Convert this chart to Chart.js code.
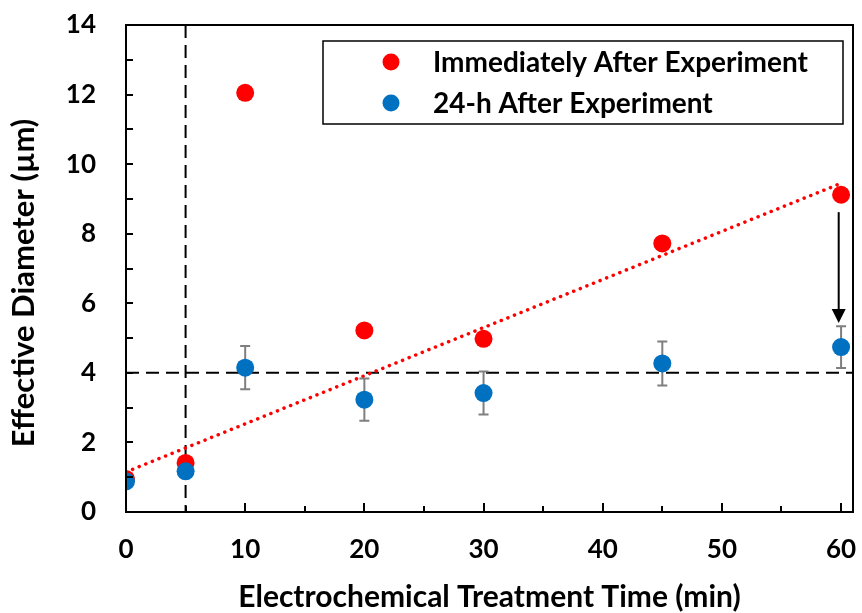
<!DOCTYPE html>
<html>
<head>
<meta charset="utf-8">
<script src="https://cdn.jsdelivr.net/npm/chart.js@4.4.1/dist/chart.umd.min.js"></script>
<style>
  html, body { margin: 0; padding: 0; background: #fff; }
  #wrap { width: 862px; height: 613px; }
</style>
</head>
<body>
<div id="wrap"><canvas id="chart" width="862" height="613"></canvas></div>
<script>
// treatment time (min)
const timeMin = [0, 5, 10, 20, 30, 45, 60];
// effective diameter right after the experiment
const immediateDia = [0.95, 1.41, 12.05, 5.22, 4.98, 7.72, 9.12];
// effective diameter 24 h later, with error bars
const after24hDia = [0.88, 1.17, 4.15, 3.23, 3.42, 4.27, 4.74];
const after24hErr = [0, 0, 0.62, 0.61, 0.62, 0.63, 0.6];
// dotted linear trend of the immediate series
const trendX = [0, 60];
const trendY = [1.15, 9.45];
// dashed reference lines
const refLineY = 4;
const refLineX = 5;
// arrow from the 60 min red point down to the blue one
const arrowX = 59.8;
const arrowY = [8.62, 5.43];
// tick labels
const xTickValues = [0, 10, 20, 30, 40, 50, 60];
const yTickValues = [0, 2, 4, 6, 8, 10, 12, 14];

const seriesLabels = ['Immediately After Experiment', '24-h After Experiment'];
const yTitle = 'Effective Diameter (µm)';
const RED = '#ff0000';
const BLUE = '#0070c0';
const FONT = 'Lato, "Open Sans", sans-serif';

const toXY = (xs, ys) => xs.map((x, i) => ({ x: x, y: ys[i] }));

// 그림 위에 추가로 그리는 것들 (참조선, 오차막대, 화살표, 테두리, 범례)
const extrasPlugin = {
	id: 'extras',
	beforeDatasetsDraw(chart) {
		const { ctx, chartArea: a, scales: { x, y } } = chart;
		ctx.save();
		ctx.strokeStyle = '#000';
		ctx.lineWidth = 2;
		ctx.setLineDash([13, 7]);
		const py = y.getPixelForValue(refLineY);
		ctx.beginPath(); ctx.moveTo(a.left, py); ctx.lineTo(a.right, py); ctx.stroke();
		const px = x.getPixelForValue(refLineX);
		ctx.beginPath(); ctx.moveTo(px, a.top); ctx.lineTo(px, a.bottom); ctx.stroke();
		ctx.restore();
	},
	// 파란 점 바로 아래에 오차막대
	beforeDatasetDraw(chart, args) {
		if (args.index !== 2) return;
		const { ctx, scales: { x, y } } = chart;
		ctx.save();
		ctx.strokeStyle = '#7f7f7f';
		ctx.lineWidth = 2;
		timeMin.forEach((t, i) => {
			const e = after24hErr[i];
			if (!e) return;
			const px = x.getPixelForValue(t);
			const top = y.getPixelForValue(after24hDia[i] + e);
			const bot = y.getPixelForValue(after24hDia[i] - e);
			ctx.beginPath();
			ctx.moveTo(px, top); ctx.lineTo(px, bot);
			ctx.moveTo(px - 5, top); ctx.lineTo(px + 5, top);
			ctx.moveTo(px - 5, bot); ctx.lineTo(px + 5, bot);
			ctx.stroke();
		});
		ctx.restore();
	},
	afterDraw(chart) {
		const { ctx, chartArea: a, scales: { x, y } } = chart;
		ctx.save();

		// arrow
		const ax = x.getPixelForValue(arrowX);
		const ay0 = y.getPixelForValue(arrowY[0]);
		const ay1 = y.getPixelForValue(arrowY[1]);
		ctx.strokeStyle = '#000';
		ctx.fillStyle = '#000';
		ctx.lineWidth = 2;
		ctx.beginPath(); ctx.moveTo(ax, ay0); ctx.lineTo(ax, ay1 - 12); ctx.stroke();
		ctx.beginPath();
		ctx.moveTo(ax - 7, ay1 - 14); ctx.lineTo(ax + 7, ay1 - 14); ctx.lineTo(ax, ay1);
		ctx.closePath(); ctx.fill();

		// inward ticks
		ctx.lineWidth = 2;
		for (let v = 0; v <= 14; v += 1) {
			const py = Math.round(y.getPixelForValue(v));
			ctx.beginPath(); ctx.moveTo(a.left, py); ctx.lineTo(a.left + 7, py); ctx.stroke();
		}
		for (let v = 0; v <= 60; v += 5) {
			const px = Math.round(x.getPixelForValue(v));
			const len = v % 10 === 0 ? 9 : 6;
			ctx.beginPath(); ctx.moveTo(px, a.bottom); ctx.lineTo(px, a.bottom - len); ctx.stroke();
		}

		// frame
		ctx.strokeRect(a.left, a.top, a.right - a.left, a.bottom - a.top);

		// y title (a bit below the axis centre, as in the original)
		ctx.save();
		ctx.translate(24, 283);
		ctx.rotate(-Math.PI / 2);
		ctx.font = 'bold 31px ' + FONT;
		ctx.fillStyle = '#000';
		ctx.textAlign = 'center';
		ctx.textBaseline = 'middle';
		ctx.fillText(yTitle, 0, 0);
		ctx.restore();

		// legend box
		const lx = 323, ly = 41, lw = 520, lh = 83;
		ctx.fillStyle = '#fff';
		ctx.fillRect(lx, ly, lw, lh);
		ctx.lineWidth = 1.5;
		ctx.strokeRect(lx, ly, lw, lh);
		const rows = [{ c: RED, y: 62 }, { c: BLUE, y: 103 }];
		ctx.font = 'bold 28px ' + FONT;
		ctx.textBaseline = 'middle';
		rows.forEach((r, i) => {
			ctx.fillStyle = r.c;
			ctx.beginPath(); ctx.arc(391, r.y, 8.5, 0, Math.PI * 2); ctx.fill();
			ctx.fillStyle = '#000';
			ctx.fillText(seriesLabels[i], 433, r.y + 1);
		});
		ctx.restore();
	}
};

const ctx = document.getElementById('chart');
new Chart(ctx, {
	type: 'scatter',
	data: {
		datasets: [
			{
				type: 'line',
				label: 'trend',
				data: toXY(trendX, trendY),
				borderColor: RED,
				borderWidth: 3.5,
				borderDash: [0.1, 7],
				borderCapStyle: 'round',
				pointRadius: 0,
				fill: false,
				order: 4
			},
			{
				label: seriesLabels[0],
				data: toXY(timeMin, immediateDia),
				backgroundColor: RED,
				borderColor: RED,
				pointRadius: 9,
				pointBorderWidth: 0,
				order: 3
			},
			{
				label: seriesLabels[1],
				data: toXY(timeMin, after24hDia),
				backgroundColor: BLUE,
				borderColor: BLUE,
				pointRadius: 9,
				pointBorderWidth: 0,
				order: 2
			}
		]
	},
	options: {
		responsive: false,
		animation: false,
		layout: { padding: { top: 25, right: 6, left: 0, bottom: 0 } },
		plugins: {
			legend: { display: false },
			tooltip: { enabled: false }
		},
		scales: {
			x: {
				type: 'linear',
				min: 0,
				max: 61,
				afterBuildTicks: (s) => { s.ticks = xTickValues.map(v => ({ value: v })); },
				afterFit: (s) => { s.height = 101; s.paddingLeft = 0; s.paddingRight = 0; },
				ticks: {
					padding: 22,
					autoSkip: false,
					maxRotation: 0,
					color: '#000',
					font: { family: FONT, size: 26, weight: 'bold' }
				},
				grid: { display: false, drawTicks: false },
				border: { display: false },
				title: {
					display: true,
					text: 'Electrochemical Treatment Time (min)',
					color: '#000',
					padding: { top: 0, bottom: -2 },
					font: { family: FONT, size: 30, weight: 'bold' }
				}
			},
			y: {
				min: 0,
				max: 14,
				afterBuildTicks: (s) => { s.ticks = yTickValues.map(v => ({ value: v })); },
				afterFit: (s) => { s.width = 126; s.paddingTop = 0; s.paddingBottom = 0; },
				ticks: {
					padding: 30,
					color: '#000',
					font: { family: FONT, size: 26, weight: 'bold' }
				},
				grid: { display: false, drawTicks: false },
				border: { display: false }
			}
		}
	},
	plugins: [extrasPlugin]
});
</script>
</body>
</html>
